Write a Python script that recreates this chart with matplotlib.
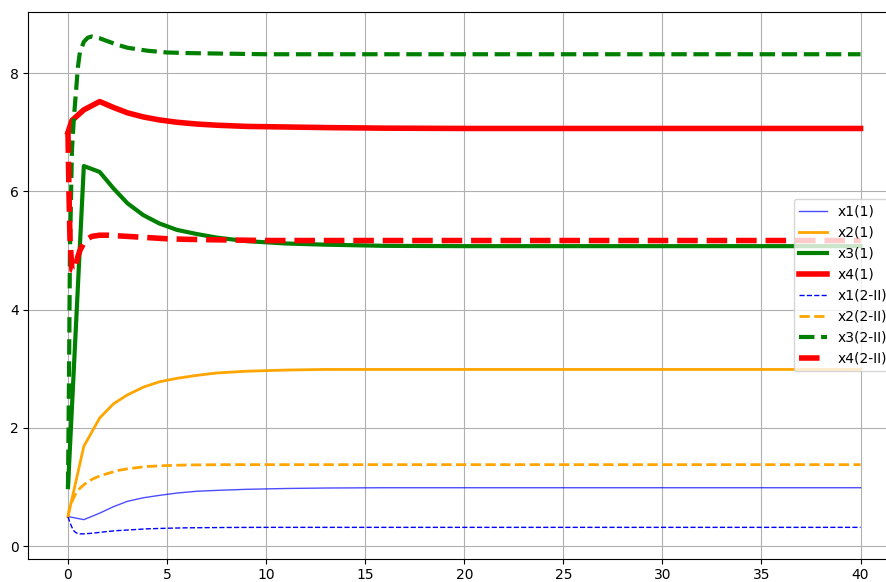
import matplotlib
matplotlib.use("Agg")
import matplotlib.pyplot as plt

# system (1): adaptive solver steps
t1 = [0, 0.2, 0.8, 1.6, 2.3, 3.0, 3.8, 4.6, 5.5, 6.5, 7.5, 9, 11, 13, 16, 20, 25, 30, 35, 40]
x1_1 = [0.5, 0.49, 0.45, 0.56, 0.67, 0.76, 0.82, 0.86, 0.9, 0.93, 0.945, 0.963, 0.977, 0.985,
        0.99, 0.99, 0.99, 0.99, 0.99, 0.99]
x2_1 = [0.5, 0.8, 1.69, 2.17, 2.41, 2.56, 2.69, 2.78, 2.84, 2.89, 2.93, 2.96, 2.98, 2.99,
        2.99, 2.99, 2.99, 2.99, 2.99, 2.99]
x3_1 = [1.0, 2.35, 6.43, 6.33, 6.05, 5.8, 5.6, 5.46, 5.35, 5.28, 5.22, 5.16, 5.12, 5.1,
        5.08, 5.075, 5.075, 5.075, 5.075, 5.075]
x4_1 = [7.0, 7.2, 7.38, 7.52, 7.42, 7.33, 7.26, 7.21, 7.17, 7.14, 7.12, 7.1, 7.09, 7.08,
        7.07, 7.065, 7.065, 7.065, 7.065, 7.065]

# system (2-II)
t2 = [0, 0.05, 0.1, 0.2, 0.3, 0.4, 0.5, 0.6, 0.8, 1.0, 1.2, 1.6, 2.0, 2.5, 3.0, 4.0, 5.0,
      6.0, 8.0, 10, 15, 20, 30, 40]
x1_2 = [0.5, 0.45, 0.4, 0.32, 0.26, 0.23, 0.215, 0.21, 0.21, 0.215, 0.22, 0.235, 0.25, 0.265,
        0.275, 0.295, 0.305, 0.312, 0.318, 0.32, 0.32, 0.32, 0.32, 0.32]
x2_2 = [0.5, 0.6, 0.67, 0.75, 0.83, 0.89, 0.94, 0.98, 1.04, 1.09, 1.13, 1.19, 1.23, 1.28,
        1.31, 1.35, 1.365, 1.375, 1.38, 1.38, 1.38, 1.38, 1.38, 1.38]
x3_2 = [1.0, 2.8, 5.0, 6.7, 7.25, 7.67, 8.1, 8.35, 8.53, 8.6, 8.62, 8.59, 8.54, 8.48,
        8.43, 8.38, 8.35, 8.34, 8.33, 8.32, 8.32, 8.32, 8.32, 8.32]
x4_2 = [7.0, 6.0, 5.2, 4.67, 4.66, 4.77, 4.9, 5.0, 5.13, 5.2, 5.24, 5.26, 5.26, 5.25,
        5.24, 5.22, 5.2, 5.19, 5.18, 5.17, 5.17, 5.17, 5.17, 5.17]

fig = plt.figure(figsize=(8.86, 5.82), dpi=100)
ax = fig.add_axes([0.032, 0.04, 0.984, 0.94])

ax.plot(t1, x1_1, color='blue', lw=1, alpha=0.7, label='x1(1)')
ax.plot(t1, x2_1, color='orange', lw=2, label='x2(1)')
ax.plot(t1, x3_1, color='green', lw=3, label='x3(1)')
ax.plot(t1, x4_1, color='red', lw=4, label='x4(1)')
ax.plot(t2, x1_2, color='blue', lw=1, ls='--', label='x1(2-II)')
ax.plot(t2, x2_2, color='orange', lw=2, ls='--', label='x2(2-II)')
ax.plot(t2, x3_2, color='green', lw=3, ls='--', label='x3(2-II)')
ax.plot(t2, x4_2, color='red', lw=4, ls='--', label='x4(2-II)')

ax.grid(True)
ax.legend(loc='center right')

plt.savefig("out.png", dpi=100)
